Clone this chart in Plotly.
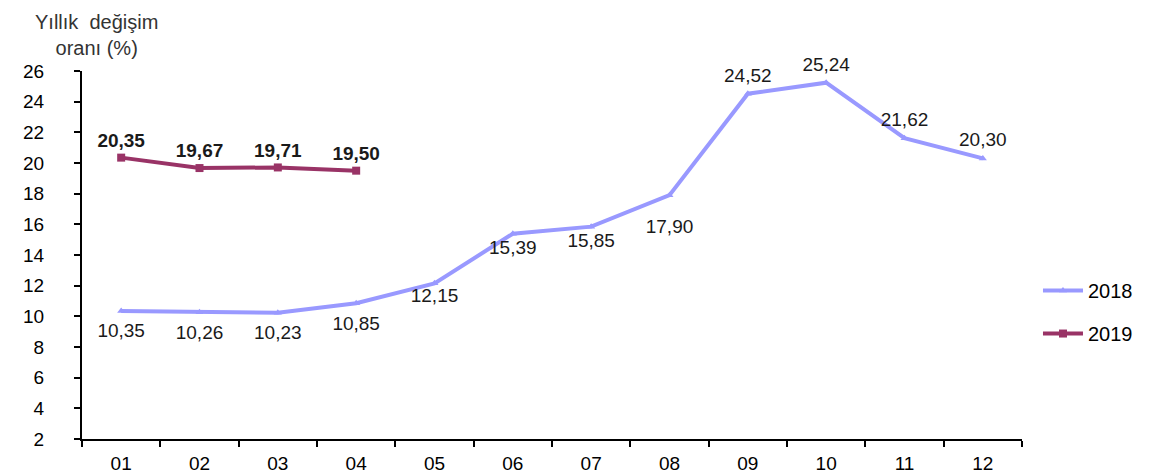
import plotly.graph_objects as go

months = ["01", "02", "03", "04", "05", "06", "07", "08", "09", "10", "11", "12"]
vals_2018 = [10.35, 10.26, 10.23, 10.85, 12.15, 15.39, 15.85, 17.90, 24.52, 25.24, 21.62, 20.30]
vals_2019 = [20.35, 19.67, 19.71, 19.50]
pos_2018 = ["bottom center"] * 8 + ["top center"] * 4
# invisible marker sizes that set the gap between each 2018 point and its label
gap_2018 = [18, 18, 18, 18, 6, 8, 8, 36, 10, 10, 10, 10]
y_ticks = list(range(2, 27, 2))

def fmt(v):
    return f"{v:.2f}".replace(".", ",")

FONT = "Liberation Sans, Arial, sans-serif"

fig = go.Figure()
fig.add_trace(go.Scatter(
    x=months, y=vals_2018, name="2018", mode="lines+markers",
    legendgroup="a",
    line=dict(color="#9999ff", width=4),
    marker=dict(symbol="triangle-up", size=7, color="#9999ff"),
    cliponaxis=False,
))
fig.add_trace(go.Scatter(
    x=months, y=vals_2018, mode="markers+text", showlegend=False, hoverinfo="skip",
    marker=dict(size=gap_2018, opacity=0),
    text=[fmt(v) for v in vals_2018], textposition=pos_2018,
    textfont=dict(family=FONT, size=19, color="#1a1a1a"),
    cliponaxis=False,
))
fig.add_trace(go.Scatter(
    x=months[:len(vals_2019)], y=vals_2019, name="2019", mode="lines+markers+text",
    legendgroup="b",
    line=dict(color="#993366", width=4),
    marker=dict(symbol="square", size=8, color="#993366"),
    text=["<b>" + fmt(v) + "</b>" for v in vals_2019], textposition="top center",
    textfont=dict(family=FONT, size=19, color="#1a1a1a"),
    cliponaxis=False,
))

fig.update_layout(
    width=1148, height=468,
    margin=dict(l=74, r=134, t=63, b=37),
    plot_bgcolor="white", paper_bgcolor="white",
    font=dict(family=FONT, size=19, color="#000000"),
    showlegend=True,
    legend=dict(x=1.017, y=0.345, xanchor="left", yanchor="middle",
                font=dict(family=FONT, size=20, color="#000000"),
                traceorder="grouped", tracegroupgap=14, itemwidth=40),
    xaxis=dict(
        type="category", categoryorder="array", categoryarray=months,
        showline=True, linecolor="black", linewidth=2,
        ticks="outside", tickson="boundaries", ticklen=6, tickcolor="black", tickwidth=2,
        showgrid=False, zeroline=False, automargin=False,
        tickfont=dict(family=FONT, size=19, color="#000000"),
        ticklabelstandoff=6,
        range=[-0.5, 11.5],
    ),
    yaxis=dict(
        range=[2, 26], tickvals=y_ticks, ticktext=[str(t) for t in y_ticks],
        showline=True, linecolor="black", linewidth=2,
        ticks="outside", ticklen=6, tickcolor="black", tickwidth=2,
        showgrid=False, zeroline=False, automargin=False,
        tickfont=dict(family=FONT, size=19, color="#000000"),
        ticklabelstandoff=26,
    ),
    annotations=[dict(
        text="Yıllık  değişim<br>oranı (%)", xref="paper", yref="paper",
        x=0.0, y=1.0, xshift=14, xanchor="center", yanchor="bottom", yshift=10, showarrow=False,
        align="center", font=dict(family=FONT, size=20, color="#333333"),
    )],
)

fig.write_html("out.html")
